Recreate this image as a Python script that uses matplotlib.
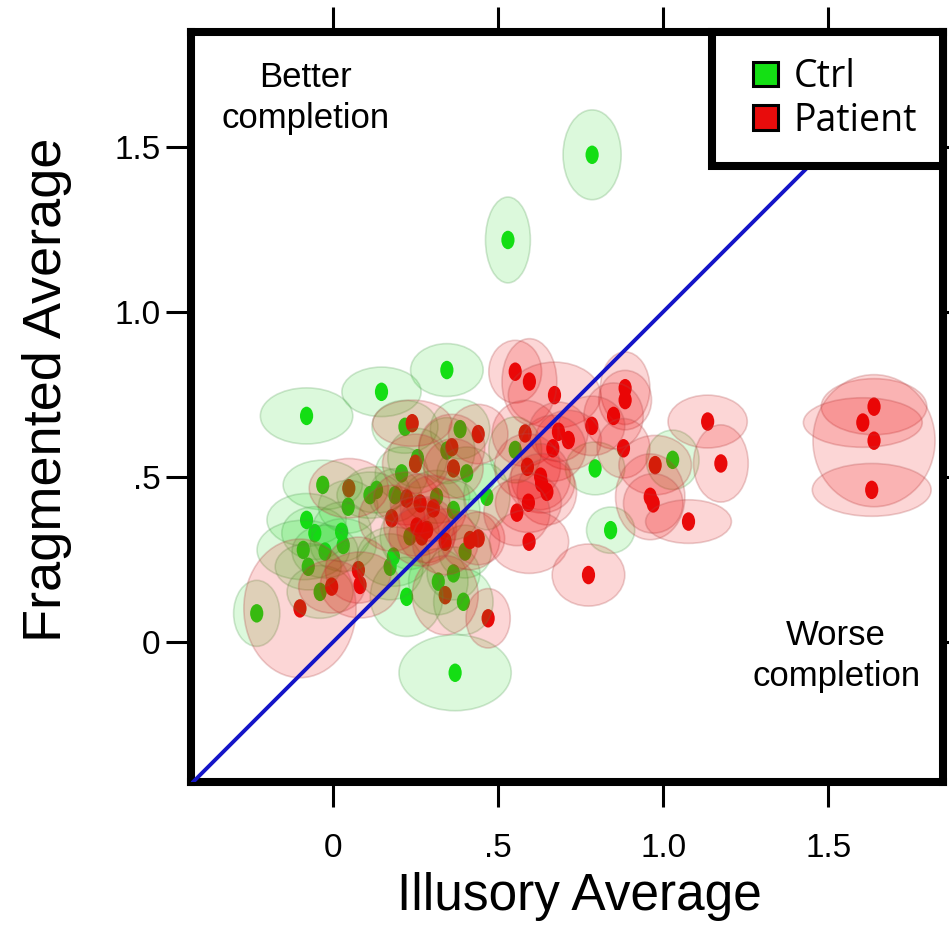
import matplotlib
matplotlib.use("Agg")
import matplotlib.pyplot as plt
from matplotlib.patches import Ellipse, Patch, Rectangle
from matplotlib.legend_handler import HandlerPatch

plt.rcParams['font.family'] = ['Liberation Sans', 'DejaVu Sans']

# control group: means and half-widths of the error ellipses
ctrl_x = [0.785, 0.53, 0.345, 0.147, -0.08, -0.031, 0.218, 0.385, 0.345, 0.405,
          0.256, 0.208, 0.132, 0.112, 0.046, 0.188, 0.314, 0.365, 0.466, -0.08,
          -0.055, 0.026, 0.031, 0.233, 0.4, -0.09, -0.024, -0.075, 0.183, 0.173,
          -0.039, 0.319, 0.365, 0.395, 0.223, -0.231, 0.37, 0.552, 0.794, 1.029,
          0.841]
ctrl_y = [1.476, 1.218, 0.824, 0.758, 0.685, 0.476, 0.652, 0.645, 0.58, 0.511,
          0.557, 0.511, 0.461, 0.445, 0.41, 0.445, 0.44, 0.4, 0.44, 0.37,
          0.33, 0.334, 0.294, 0.32, 0.274, 0.279, 0.274, 0.228, 0.259, 0.228,
          0.152, 0.183, 0.208, 0.122, 0.137, 0.087, -0.093, 0.582, 0.526, 0.552,
          0.339]
ctrl_ex = [0.088, 0.068, 0.11, 0.12, 0.14, 0.12, 0.1, 0.09, 0.085, 0.09,
           0.09, 0.08, 0.1, 0.1, 0.09, 0.08, 0.1, 0.08, 0.07, 0.12,
           0.1, 0.09, 0.1, 0.09, 0.08, 0.14, 0.1, 0.1, 0.11, 0.1,
           0.1, 0.09, 0.08, 0.09, 0.11, 0.07, 0.17, 0.08, 0.09, 0.08,
           0.073]
ctrl_ey = [0.136, 0.13, 0.08, 0.075, 0.085, 0.075, 0.08, 0.09, 0.1, 0.08,
           0.09, 0.08, 0.07, 0.07, 0.08, 0.08, 0.08, 0.09, 0.1, 0.08,
           0.08, 0.09, 0.08, 0.1, 0.08, 0.09, 0.08, 0.07, 0.09, 0.1,
           0.08, 0.1, 0.08, 0.1, 0.12, 0.1, 0.115, 0.1, 0.08, 0.09,
           0.07]

# patient group
pat_x = [0.24, 0.44, 0.36, 0.365, 0.25, 0.048, 0.178, 0.223, 0.264, 0.304,
         0.254, 0.284, 0.269, 0.34, 0.415, 0.44, 0.077, 0.082, -0.004, 0.34,
         -0.1, 0.47, 0.552, 0.595, 0.671, 0.885, 0.885, 0.85, 0.784, 1.135,
         0.582, 0.683, 0.713, 0.666, 0.88, 0.589, 0.629, 0.632, 0.648, 0.592,
         0.557, 0.976, 0.961, 0.97, 1.077, 1.175, 0.594, 0.774, 1.639, 1.605,
         1.639, 1.632]
pat_y = [0.663, 0.63, 0.59, 0.526, 0.54, 0.466, 0.375, 0.435, 0.42, 0.405,
         0.35, 0.34, 0.32, 0.304, 0.309, 0.314, 0.218, 0.173, 0.168, 0.142,
         0.102, 0.072, 0.819, 0.789, 0.748, 0.769, 0.733, 0.685, 0.655, 0.668,
         0.632, 0.637, 0.612, 0.587, 0.587, 0.531, 0.501, 0.481, 0.455, 0.422,
         0.392, 0.536, 0.44, 0.42, 0.365, 0.541, 0.304, 0.203, 0.713, 0.665,
         0.61, 0.461]
pat_ex = [0.12, 0.09, 0.1, 0.09, 0.1, 0.12, 0.1, 0.1, 0.09, 0.1,
          0.1, 0.09, 0.1, 0.1, 0.09, 0.08, 0.1, 0.12, 0.1, 0.1,
          0.17, 0.067, 0.08, 0.083, 0.14, 0.075, 0.08, 0.09, 0.1, 0.12,
          0.1, 0.09, 0.1, 0.1, 0.08, 0.1, 0.09, 0.1, 0.09, 0.1,
          0.1, 0.11, 0.105, 0.09, 0.13, 0.083, 0.12, 0.11, 0.16, 0.18,
          0.185, 0.18]
pat_ey = [0.07, 0.09, 0.1, 0.09, 0.09, 0.09, 0.1, 0.08, 0.09, 0.1,
          0.09, 0.1, 0.09, 0.1, 0.09, 0.08, 0.1, 0.1, 0.08, 0.12,
          0.21, 0.09, 0.095, 0.13, 0.1, 0.11, 0.09, 0.1, 0.09, 0.08,
          0.1, 0.09, 0.09, 0.1, 0.09, 0.1, 0.1, 0.09, 0.1, 0.09,
          0.1, 0.09, 0.13, 0.09, 0.066, 0.117, 0.096, 0.094, 0.085, 0.075,
          0.2, 0.08]

ticks = [0, 0.5, 1.0, 1.5]
tick_labels = ['0', '.5', '1.0', '1.5']

green = '#14e014'
red = '#e80c0c'

fig = plt.figure(figsize=(9.49, 9.30), dpi=100)
ax = fig.add_axes([0.2013, 0.1591, 0.7924, 0.8065])


def draw_group(xs, ys, exs, eys, dot, face, edge):
    for x, y, ex, ey in zip(xs, ys, exs, eys):
        ax.add_patch(Ellipse((x, y), 0.04, 0.056, facecolor=dot,
                             edgecolor='none', zorder=2))
        ax.add_patch(Ellipse((x, y), 2 * ex, 2 * ey, facecolor=face,
                             edgecolor=edge, linewidth=1.2, zorder=3))


draw_group(ctrl_x, ctrl_y, ctrl_ex, ctrl_ey, green,
           (0.1, 0.85, 0.1, 0.15), (0.3, 0.6, 0.3, 0.25))
draw_group(pat_x, pat_y, pat_ex, pat_ey, red,
           (0.94, 0.0, 0.0, 0.16), (0.7, 0.3, 0.3, 0.28))

# unity line
ax.plot([-1, 3], [-1, 3], color='#1414c8', lw=2.8, zorder=4)

ax.set_xlim(-0.43, 1.848)
ax.set_ylim(-0.424, 1.848)

ax.set_xticks(ticks)
ax.set_xticklabels(tick_labels)
ax.set_yticks(ticks)
ax.set_yticklabels(tick_labels)
ax.tick_params(direction='out', length=18, width=2.2, top=True, right=True,
               labelsize=24)
ax.tick_params(axis='x', pad=19)
ax.tick_params(axis='y', pad=4)
for s in ax.spines.values():
    s.set_linewidth(5.8)

ax.set_xlabel('Illusory Average', fontsize=37)
ax.set_ylabel('Fragmented Average', fontsize=39)
ax.xaxis.set_label_coords(0.517, -0.153)
ax.xaxis.label.set_va('center')
ax.yaxis.set_label_coords(-0.191, 0.523)
ax.yaxis.label.set_va('center')

ax.text(0.152, 0.912, 'Better\ncompletion', transform=ax.transAxes,
        ha='center', va='center', fontsize=25, linespacing=1.32)
ax.text(0.858, 0.168, 'Worse\ncompletion', transform=ax.transAxes,
        ha='center', va='center', fontsize=25, linespacing=1.32)


def square_patch(legend, orig_handle, xdescent, ydescent, width, height, fontsize):
    # square swatch pushed to the right end of the handle box
    return Rectangle((width - height - xdescent, -ydescent), height, height)


handles = [Patch(facecolor=green, edgecolor='black', linewidth=2.2, label='Ctrl'),
           Patch(facecolor=red, edgecolor='black', linewidth=2.2, label='Patient')]
leg = ax.legend(handles=handles, loc='upper right', bbox_to_anchor=(1, 1),
                borderaxespad=0, fancybox=False, framealpha=1,
                edgecolor='black', handlelength=1.08, handleheight=0.64,
                handletextpad=0.4, labelspacing=0.15, borderpad=0.7,
                handler_map={Patch: HandlerPatch(patch_func=square_patch)},
                prop={'family': 'Open Sans', 'size': 27})
leg.get_frame().set_linewidth(5.8)
leg.get_frame().set_joinstyle('miter')
leg.set_zorder(6)

fig.savefig('out.png', dpi=100)
